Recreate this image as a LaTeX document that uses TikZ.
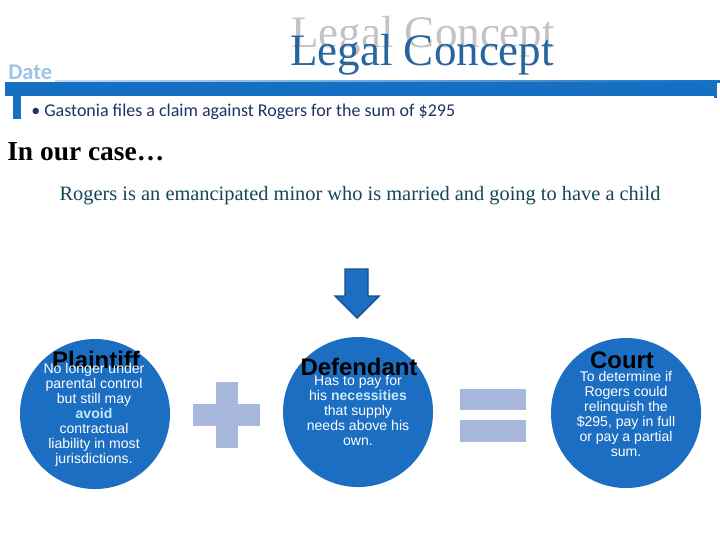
\documentclass[tikz,border=0pt]{standalone}
\usepackage{fontspec}
\setmainfont{Liberation Serif}
\setsansfont{Liberation Sans}
\newfontfamily\calibrifont{Carlito}
\usepackage{xcolor}
\usetikzlibrary{positioning}

\definecolor{circblue}{RGB}{27,110,194}
\definecolor{signblue}{RGB}{168,184,220}
\definecolor{barblue}{RGB}{21,112,196}
\definecolor{navytext}{RGB}{30,50,100}
\definecolor{tealtext}{RGB}{20,70,90}
\definecolor{datelight}{RGB}{157,195,230}
\definecolor{hilite}{RGB}{200,232,250}
\definecolor{arrowedge}{RGB}{25,75,140}
\definecolor{titlegray}{RGB}{195,195,195}
\definecolor{titleblue}{RGB}{40,100,160}

\tikzset{
  bubble/.style={circle, fill=circblue, minimum size=3.75cm, inner sep=0pt},
  bubbletitle/.style={font=\sffamily\bfseries\fontsize{17}{17}\selectfont, text=black, inner sep=0pt},
  bubbletext/.style={font=\sffamily\fontsize{10}{10.7}\selectfont, text=white, align=center, inner sep=0pt, anchor=north},
  sign/.style={fill=signblue, draw=none}
}
\newcommand{\hl}[1]{\textbf{\color{hilite}#1}}

\begin{document}
\begin{tikzpicture}[x=0.025cm, y=-0.025cm]
    \useasboundingbox (0,0) rectangle (720,540);

    % Header
    \node (titleShadow) [anchor=base west, inner sep=0pt, text=titlegray,
        font=\fontsize{32}{32}\selectfont] at (291,47) {Legal Concept};
    \node (title) [anchor=base west, inner sep=0pt, text=titleblue,
        font=\fontsize{32}{32}\selectfont] at (290,65) {Legal Concept};
    \node (date) [anchor=base west, inner sep=0pt, text=datelight,
        font=\calibrifont\bfseries\fontsize{16}{16}\selectfont] at (8,79) {Date};
    \shade[left color=datelight!60, right color=barblue] (55,80) rectangle (720,82);
    \fill[barblue] (5,82) rectangle (716,96);
    \fill[barblue] (714,82) rectangle (717,98);
    \fill[barblue] (13,96) rectangle (21,119);
    \node (claim) [anchor=base west, inner sep=0pt, text=navytext,
        font=\calibrifont\fontsize{12.8}{12.8}\selectfont] at (31,116)
        {\textbullet\ Gastonia files a claim against Rogers for the sum of \$295};

    % Case
    \node (case) [anchor=base west, inner sep=0pt,
        font=\bfseries\fontsize{19.5}{19.5}\selectfont] at (7,160) {In our case…};
    \node (facts) [anchor=base, inner sep=0pt, text=tealtext,
        font=\fontsize{14.5}{14.5}\selectfont] at (360,200)
        {Rogers is an emancipated minor who is married and going to have a child};

    % Arrow
    \filldraw[fill=circblue, draw=arrowedge, line width=1pt]
        (345,269) -- (368,269) -- (368,296) -- (379,296) -- (357,318)
        -- (335,296) -- (345,296) -- cycle;

    % Circles
    \node (plaintiff) [bubble] at (95,414) {};
    \node (defendant) [bubble] at (358,412) {};
    \node (court) [bubble] at (626,413) {};

    \node (plaintiffTitle) [bubbletitle] at (96,360) {Plaintiff};
    \node (defendantTitle) [bubbletitle] at (359,367) {Defendant};
    \node (courtTitle) [bubbletitle] at (622,360) {Court};

    \node (plaintiffText) [bubbletext] at (94,363)
        {No longer under\\parental control\\but still may\\\hl{avoid}\\contractual\\liability in most\\jurisdictions.};
    \node (defendantText) [bubbletext] at (358,375)
        {Has to pay for\\his \hl{necessities}\\that supply\\needs above his\\own.};
    \node (courtText) [bubbletext] at (626,371)
        {To determine if\\Rogers could\\relinquish the\\\$295, pay in full\\or pay a partial\\sum.};

    % Signs
    \fill[sign] (216,382) rectangle (238,448);
    \fill[sign] (193,404) rectangle (260,426);
    \fill[sign] (460,389) rectangle (526,410);
    \fill[sign] (460,420) rectangle (526,442);
\end{tikzpicture}
\end{document}
